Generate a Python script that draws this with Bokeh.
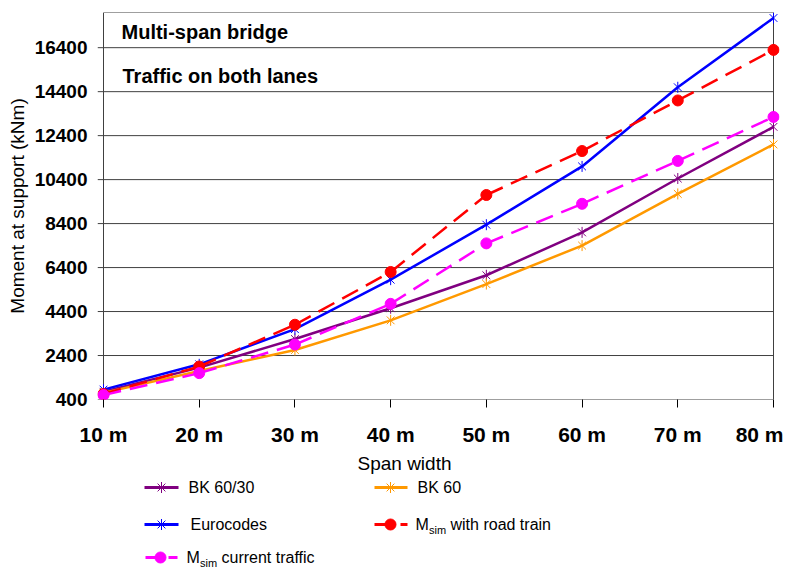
import numpy as np
from bokeh.plotting import figure
from bokeh.models import Range1d, FixedTicker, Label
from bokeh.layouts import column
from bokeh.embed import file_html
from bokeh.resources import INLINE
from bokeh.core.properties import value

# ---------------- data ----------------
spans = [10, 20, 30, 40, 50, 60, 70, 80]
span_labels = ["10 m", "20 m", "30 m", "40 m", "50 m", "60 m", "70 m", "80 m"]
bk6030 = [750, 1850, 3150, 4550, 6050, 8000, 10450, 12800]
bk60 = [700, 1700, 2650, 4000, 5650, 7400, 9750, 12000]
eurocodes = [850, 2000, 3600, 5850, 8350, 11000, 14600, 17750]
msim_road = [650, 1900, 3800, 6200, 9700, 11700, 14000, 16300]
msim_current = [600, 1600, 2900, 4750, 7500, 9300, 11250, 13250]
y_ticks = [400, 2400, 4400, 6400, 8400, 10400, 12400, 14400, 16400]
y_labels = [str(v) for v in y_ticks]
y_min, y_max = 400, 18000
x_first, x_last = 10, 80

FONT = "Liberation Sans"
PURPLE = "#800080"
ORANGE = "#FF9900"
BLUE = "#0000FF"
RED = "#FF0000"
MAGENTA = "#FF00FF"
GRID = "#404040"

FRAME_L, FRAME_R = 97, 779

# ---------------- main chart ----------------
PX_PER_UNIT = 670 / 70
x_pad = 6 / PX_PER_UNIT
p = figure(width=783, height=449,
           x_range=Range1d(x_first - x_pad, x_last + x_pad),
           y_range=Range1d(y_min, y_max),
           output_backend="svg", toolbar_location=None,
           min_border_left=FRAME_L, min_border_right=783 - FRAME_R,
           min_border_top=12, min_border_bottom=50)
p.outline_line_color = None
p.xgrid.visible = False
p.ygrid.visible = False
p.background_fill_color = "white"
p.border_fill_color = "white"

xa = p.xaxis[0]
xa.ticker = FixedTicker(ticks=spans)
xa.major_label_overrides = {s: l for s, l in zip(spans, span_labels)}
xa.axis_line_color = None
xa.major_tick_out = 8
xa.major_tick_in = 0
xa.major_tick_line_color = "black"
xa.minor_tick_line_color = None
xa.major_label_standoff = 15
xa.major_label_text_font = FONT
xa.major_label_text_font_size = "21px"
xa.major_label_text_font_style = "bold"
xa.major_label_text_color = "black"

ya = p.yaxis[0]
ya.ticker = FixedTicker(ticks=y_ticks)
ya.major_label_overrides = {t: l for t, l in zip(y_ticks, y_labels)}
ya.axis_line_color = None
ya.major_tick_out = 0
ya.major_tick_in = 0
ya.minor_tick_line_color = None
ya.major_label_standoff = 10
ya.major_label_text_font = FONT
ya.major_label_text_font_size = "19px"
ya.major_label_text_font_style = "bold"
ya.major_label_text_color = "black"
ya.axis_label = "Moment at support (kNm)"
ya.axis_label_text_font = FONT
ya.axis_label_text_font_size = "19px"
ya.axis_label_text_font_style = "normal"
ya.axis_label_text_color = "black"
ya.axis_label_standoff = 4

# grid lines (extend left past the axis like tick marks)
n = len(y_ticks)
p.segment(x0=[x_first - x_pad] * n, x1=[x_last] * n, y0=y_ticks, y1=y_ticks,
          line_color=GRID, line_width=1)
# plot box
p.segment(x0=[x_first, x_last, x_first], x1=[x_first, x_last, x_last],
          y0=[y_min, y_min, y_max], y1=[y_max, y_max, y_max],
          line_color=GRID, line_width=1)


def star(fig, xs, ys, color):
    fig.scatter(xs, ys, marker="x", size=11, line_color=color, line_width=1)
    fig.scatter(xs, ys, marker="dash", angle=np.pi / 2, size=11,
                line_color=color, line_width=1)


def dashed(fig, xs, ys, color):
    # dash pattern restarts at every data point, as in the original
    fig.segment(x0=xs[:-1], y0=ys[:-1], x1=xs[1:], y1=ys[1:],
                line_color=color, line_width=2.5, line_dash="18 9")


p.line(spans, bk6030, line_color=PURPLE, line_width=2.5)
star(p, spans, bk6030, PURPLE)
p.line(spans, bk60, line_color=ORANGE, line_width=2.5)
star(p, spans, bk60, ORANGE)
p.line(spans, eurocodes, line_color=BLUE, line_width=2.5)
star(p, spans, eurocodes, BLUE)
dashed(p, spans, msim_road, RED)
p.scatter(spans, msim_road, marker="circle", size=11, fill_color=RED, line_color=RED)
dashed(p, spans, msim_current, MAGENTA)
p.scatter(spans, msim_current, marker="circle", size=11, fill_color=MAGENTA, line_color=MAGENTA)

p.add_layout(Label(x=x_first + 18 / PX_PER_UNIT, y=17130, text="Multi-span bridge",
                   text_font=FONT, text_font_size="20px", text_font_style="bold",
                   text_baseline="middle", text_color="black"))
p.add_layout(Label(x=x_first + 19 / PX_PER_UNIT, y=15130, text="Traffic on both lanes",
                   text_font=FONT, text_font_size="20px", text_font_style="bold",
                   text_baseline="middle", text_color="black"))

# ---------------- legend / x-axis title panel ----------------
# frame aligned with the main chart's frame; data units = page pixels
lg = figure(width=783, height=119,
            x_range=Range1d(FRAME_L, FRAME_R), y_range=Range1d(568, 449),
            x_axis_type=None, y_axis_type=None, output_backend="svg",
            toolbar_location=None, min_border_left=FRAME_L,
            min_border_right=783 - FRAME_R, min_border_top=0, min_border_bottom=0)
lg.outline_line_color = None
lg.grid.visible = False

lg.text(x=[404], y=[463], text=["Span width"], text_font=value(FONT),
        text_font_size="19px", text_align="center", text_baseline="middle",
        text_color="black")

# BK 60/30
lg.line([144, 178], [487, 487], line_color=PURPLE, line_width=3)
star(lg, [161], [487], PURPLE)
# BK 60
lg.line([374, 407], [487, 487], line_color=ORANGE, line_width=3)
star(lg, [390], [487], ORANGE)
# Eurocodes
lg.line([144, 178], [524, 524], line_color=BLUE, line_width=3)
star(lg, [161], [524], BLUE)
# Msim road train
lg.line([374, 407], [524, 524], line_color=RED, line_width=3, line_dash="21 5 7")
lg.scatter([390], [524], marker="circle", size=11, fill_color=RED, line_color=RED)
# Msim current traffic
lg.line([145, 177], [557, 557], line_color=MAGENTA, line_width=3, line_dash="18 5 9")
lg.scatter([160], [557], marker="circle", size=11, fill_color=MAGENTA, line_color=MAGENTA)

lg.text(x=[188, 417, 190, 415, 186], y=[487, 487, 524, 524, 557],
        text=["BK 60/30", "BK 60", "Eurocodes", "M", "M"],
        text_font=value(FONT), text_font_size="16px", text_baseline="middle",
        text_color="black")
lg.text(x=[428.5, 199.5], y=[529, 562], text=["sim", "sim"],
        text_font=value(FONT), text_font_size="11px", text_baseline="middle",
        text_color="black")
lg.text(x=[450, 221], y=[524, 557], text=["with road train", "current traffic"],
        text_font=value(FONT), text_font_size="16px", text_baseline="middle",
        text_color="black")

layout = column(p, lg, spacing=0)
open("out.html", "w").write(file_html(layout, INLINE))
